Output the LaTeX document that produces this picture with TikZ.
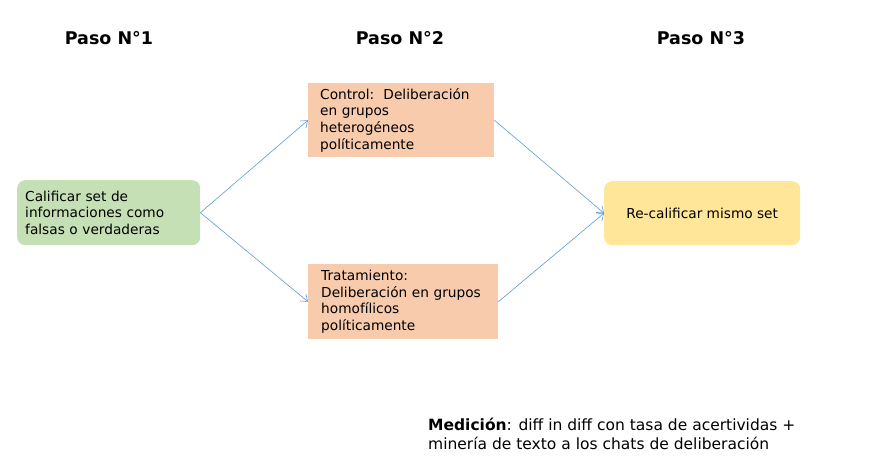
\documentclass[tikz,border=0pt]{standalone}
\usepackage{fontspec}
\setmainfont{DejaVu Sans}
\usetikzlibrary{arrows.meta}
\definecolor{boxgreen}{HTML}{C5E0B4}
\definecolor{boxorange}{HTML}{F8CBAD}
\definecolor{boxyellow}{HTML}{FFE699}
\definecolor{arrblue}{HTML}{5B9BD5}
\begin{document}
\begin{tikzpicture}[x=1pt,y=-1pt,
  header/.style={font=\fontsize{17.5}{20}\selectfont\bfseries, inner sep=0pt},
  boxtext/.style={font=\fontsize{13.7}{16.6}\selectfont, align=left, anchor=north west, inner ysep=0pt},
  arr/.style={draw=arrblue, line width=0.6pt, -{Straight Barb[length=6pt,width=9pt]}}]
\useasboundingbox (0,0) rectangle (873,464);
\node[header] (h1) at (109,38) {Paso N°1};
\node[header] (h2) at (400,38) {Paso N°2};
\node[header] (h3) at (701,38) {Paso N°3};

\node[boxtext, fill=boxgreen, rounded corners=8pt, inner xsep=8pt, text width=167pt, minimum height=65pt] (s1) at (17,180)
  {Calificar set de\\informaciones como\\falsas o verdaderas};
\node[boxtext, fill=boxorange, inner xsep=12pt, text width=162pt, minimum height=74pt] (ctrl) at (308,83)
  {Control:\ \ Deliberación\\en grupos\\heterogéneos\\políticamente};
\node[boxtext, fill=boxorange, inner xsep=13pt, text width=164pt, minimum height=75pt] (trat) at (308,264)
  {Tratamiento:\\Deliberación en grupos\\homofílicos\\políticamente};
\node[font=\fontsize{13.7}{16.6}\selectfont, fill=boxyellow, rounded corners=8pt, anchor=north west, minimum width=196pt, minimum height=64pt, inner sep=0pt] (s3) at (604,181)
  {Re-calificar mismo set};

\draw[arr] (s1.east) -- (ctrl.west);
\draw[arr] (s1.east) -- (trat.west);
\draw[arr] (ctrl.east) -- (s3.west);
\draw[arr] (trat.east) -- (s3.west);

\node[font=\fontsize{15.5}{19}\selectfont, align=left, anchor=north west, inner sep=0pt] (med) at (428,418)
  {\textbf{Medición}: diff in diff con tasa de acertividas +\\minería de texto a los chats de deliberación};
\end{tikzpicture}
\end{document}
